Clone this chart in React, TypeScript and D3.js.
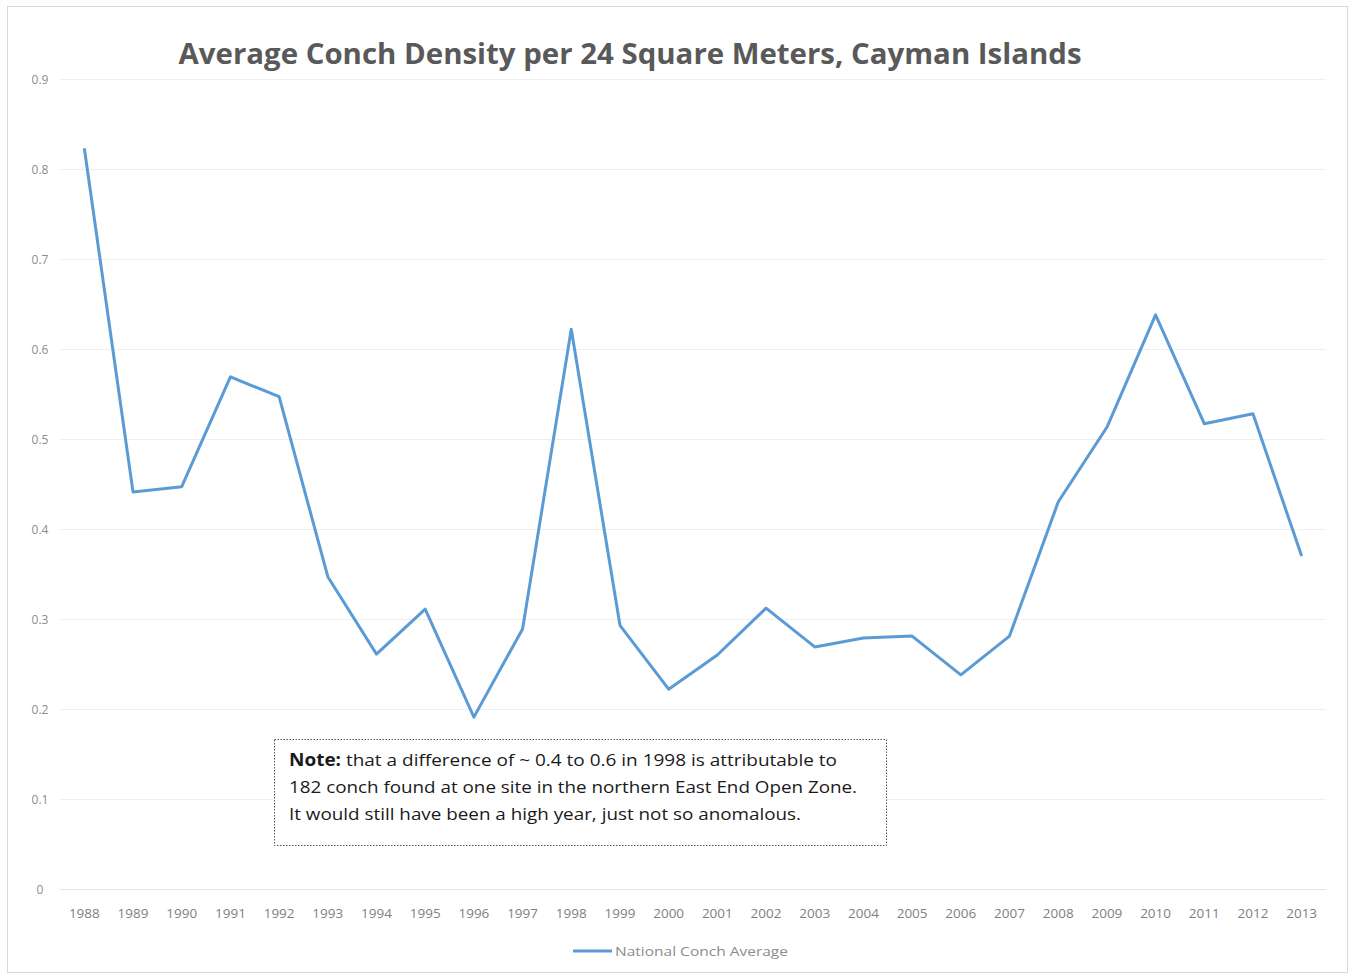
import React, { useRef, useEffect } from 'react';
import { select, scaleBand, scaleLinear, line } from 'd3';

const years = [
  '1988', '1989', '1990', '1991', '1992', '1993', '1994', '1995', '1996',
  '1997', '1998', '1999', '2000', '2001', '2002', '2003', '2004', '2005',
  '2006', '2007', '2008', '2009', '2010', '2011', '2012', '2013',
];
const conchAverage = [
  0.823, 0.441, 0.447, 0.569, 0.547, 0.347, 0.261, 0.311, 0.191,
  0.289, 0.622, 0.293, 0.222, 0.26, 0.312, 0.269, 0.279, 0.281,
  0.238, 0.281, 0.43, 0.513, 0.638, 0.517, 0.528, 0.37,
];
const yTicks = [0, 0.1, 0.2, 0.3, 0.4, 0.5, 0.6, 0.7, 0.8, 0.9];
const noteLines = [
  ' that a difference of ~ 0.4 to 0.6 in 1998 is attributable to',
  '182 conch found at one site in the northern East End Open Zone.',
  'It would still have been a high year, just not so anomalous.',
];
const noteWidths = [548, 568, 512];

const W = 1352;
const H = 976;
const plot = { left: 60, right: 1326, top: 79, bottom: 889 };
const font = '"Open Sans", Lato, sans-serif';

const App: React.FC = () => {
  const svgRef = useRef<SVGSVGElement>(null);

  useEffect(() => {
    const svg = select(svgRef.current as any);
    svg.selectAll('*').remove();

    const x = scaleBand().domain(years).range([plot.left, plot.right]);
    const y = scaleLinear().domain([0, 0.9]).range([plot.bottom, plot.top]);

    // frame
    svg.append('rect')
      .attr('x', 7.5).attr('y', 6.5)
      .attr('width', 1340).attr('height', 966)
      .attr('fill', '#fff').attr('stroke', '#d9d9d9');

    // gridlines
    svg.append('g')
      .selectAll('line')
      .data(yTicks)
      .join('line')
      .attr('x1', plot.left).attr('x2', plot.right)
      .attr('y1', d => y(d) + 0.5).attr('y2', d => y(d) + 0.5)
      .attr('stroke', (d) => (d === 0 ? '#e3e3e3' : '#efefef'))
      .attr('stroke-width', 1);

    // y labels
    svg.append('g')
      .selectAll('text')
      .data(yTicks)
      .join('text')
      .attr('x', 40)
      .attr('y', d => y(d) + 5)
      .attr('text-anchor', 'middle')
      .attr('font-family', font)
      .attr('font-size', 12)
      .attr('fill', '#8c8c8c')
      .text(d => (d === 0 ? '0' : d.toFixed(1)));

    // x labels
    svg.append('g')
      .selectAll('text')
      .data(years)
      .join('text')
      .attr('x', d => (x(d) as number) + x.bandwidth() / 2)
      .attr('y', 918)
      .attr('text-anchor', 'middle')
      .attr('font-family', font)
      .attr('font-size', 13.5)
      .attr('fill', '#7f7f7f')
      .text(d => d);

    // series line
    const path = line<number>()
      .x((_, i) => (x(years[i]) as number) + x.bandwidth() / 2)
      .y(d => y(d));
    svg.append('path')
      .datum(conchAverage)
      .attr('d', path as any)
      .attr('fill', 'none')
      .attr('stroke', '#5b9bd5')
      .attr('stroke-width', 3)
      .attr('stroke-linejoin', 'round');

    // title
    svg.append('text')
      .attr('x', 630).attr('y', 64)
      .attr('text-anchor', 'middle')
      .attr('font-family', font)
      .attr('font-weight', 'bold')
      .attr('font-size', 29)
      .attr('fill', '#595959')
      .attr('textLength', 903)
      .attr('lengthAdjust', 'spacingAndGlyphs')
      .text('Average Conch Density per 24 Square Meters, Cayman Islands');

    // note box
    svg.append('rect')
      .attr('x', 274.5).attr('y', 739.5)
      .attr('width', 612).attr('height', 106)
      .attr('fill', '#fff')
      .attr('stroke', '#555')
      .attr('stroke-width', 1)
      .attr('stroke-dasharray', '1.5 1.5');

    const note = svg.append('g')
      .attr('font-family', font)
      .attr('font-size', 17)
      .attr('fill', '#1a1a1a');
    note.selectAll('text')
      .data(noteLines)
      .join('text')
      .attr('x', 289)
      .attr('y', (_, i) => 766 + i * 27)
      .attr('textLength', (_, i) => noteWidths[i])
      .attr('lengthAdjust', 'spacingAndGlyphs')
      .each(function (d, i) {
        const t = select(this);
        if (i === 0) {
          t.append('tspan').attr('font-weight', 'bold').text('Note:');
        }
        t.append('tspan').text(d);
      });

    // legend
    const legend = svg.append('g');
    legend.append('line')
      .attr('x1', 573).attr('x2', 612)
      .attr('y1', 951).attr('y2', 951)
      .attr('stroke', '#5b9bd5').attr('stroke-width', 3);
    legend.append('text')
      .attr('x', 615).attr('y', 956)
      .attr('font-family', font)
      .attr('font-size', 13)
      .attr('fill', '#8c8c8c')
      .attr('textLength', 173)
      .attr('lengthAdjust', 'spacingAndGlyphs')
      .text('National Conch Average');
  }, []);

  return (
    <svg
      ref={svgRef}
      width={W}
      height={H}
      style={{ position: 'absolute', left: 0, top: 0, display: 'block' }}
    />
  );
};

export default App;
